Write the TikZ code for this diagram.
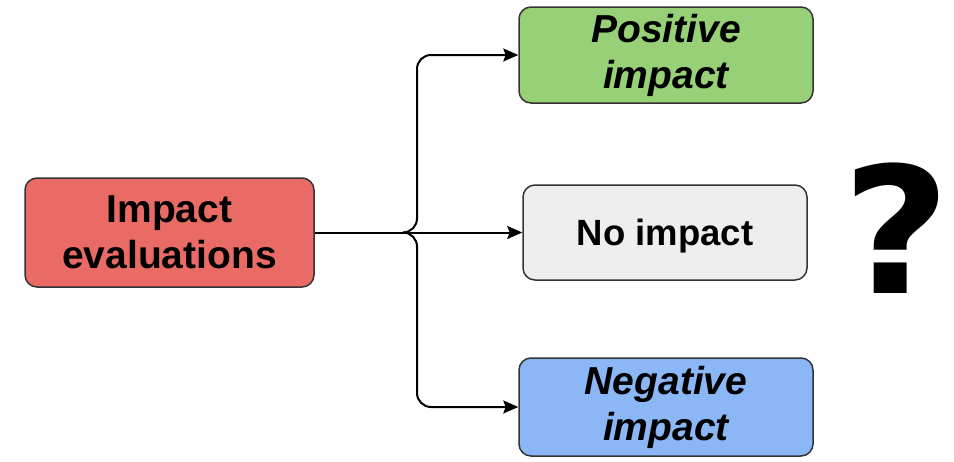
\documentclass[tikz,border=0pt]{standalone}
\usepackage{fontspec}
\setmainfont{Liberation Sans}
\newfontfamily\qfont{DejaVu Sans}
\usetikzlibrary{arrows.meta}
\definecolor{redfill}{HTML}{EA6B66}
\definecolor{greenfill}{HTML}{97D077}
\definecolor{grayfill}{HTML}{EEEEEE}
\definecolor{bluefill}{HTML}{8CB7F7}
\definecolor{edge}{HTML}{333333}
\tikzset{
  box/.style={draw=edge, line width=1.5pt, rounded corners=12pt, inner sep=0pt, align=center, anchor=center},
  bigtxt/.style={font=\fontsize{39}{46}\selectfont\bfseries},
  conn/.style={line width=2pt, black},
  arr/.style={conn, -{Stealth[length=15pt,width=13pt,inset=2.5pt]}},
}
\begin{document}
\begin{tikzpicture}[x=1pt,y=-1pt]
\useasboundingbox (0,0) rectangle (954,461);
\node[box, fill=redfill, minimum width=289pt, minimum height=109pt, bigtxt] (eval) at (169.5,232.5) {Impact\\evaluations};
\node[box, fill=greenfill, minimum width=294pt, minimum height=96pt, bigtxt, font=\fontsize{39}{46}\selectfont\bfseries\itshape] (pos) at (666,55) {Positive\\impact};
\node[box, fill=grayfill, minimum width=284pt, minimum height=95pt, text depth=0pt, font=\fontsize{36.5}{44}\selectfont\bfseries] (none) at (665,232.5) {No impact};
\node[box, fill=bluefill, minimum width=294pt, minimum height=98pt, bigtxt, font=\fontsize{39}{46}\selectfont\bfseries\itshape] (neg) at (666,407) {Negative\\impact};
\node[inner sep=0pt, font=\qfont\fontsize{176}{176}\selectfont\bfseries, xscale=1.06] (q) at (897,228) {?};
\coordinate (j) at (403,232.5);
\coordinate (k) at (417,232.5);
\draw[conn] (eval.east) -- (j);
\draw[arr] (j) -- (none.west);
\draw[arr, rounded corners=14pt] (j) -- (k) |- (pos.west);
\draw[arr, rounded corners=14pt] (j) -- (k) |- (neg.west);
\end{tikzpicture}
\end{document}
